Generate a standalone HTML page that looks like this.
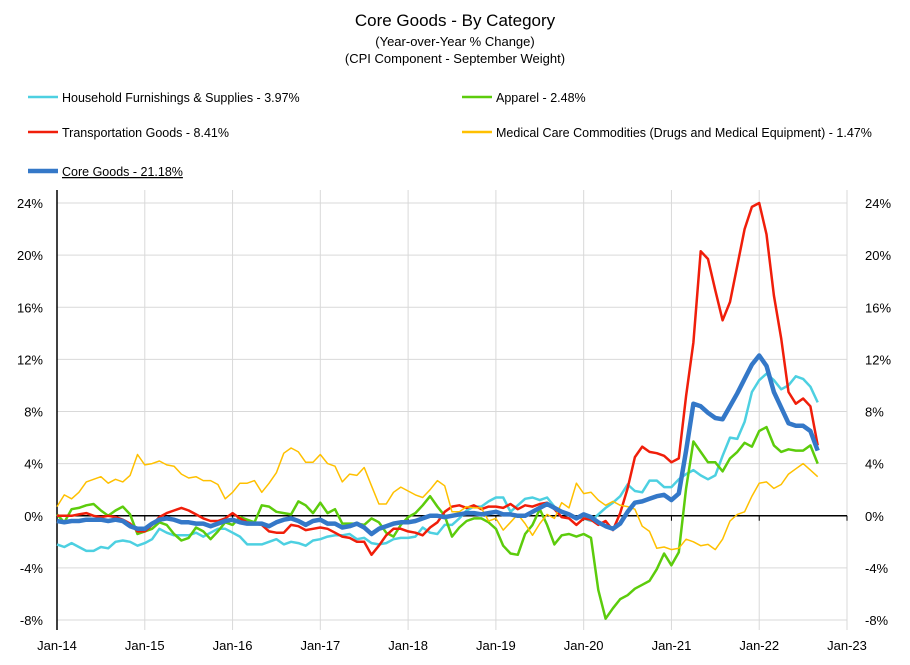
<!DOCTYPE html>
<html><head><meta charset="utf-8"><style>
body{margin:0;background:#fff;font-family:"Liberation Sans",sans-serif;}
svg text{font-family:"Liberation Sans",sans-serif;fill:#000;}
</style></head><body>
<svg id="chart" width="910" height="660" viewBox="0 0 910 660" xmlns="http://www.w3.org/2000/svg">
<rect width="910" height="660" fill="#fff"/>
<text x="455" y="26" font-size="17" text-anchor="middle">Core Goods - By Category</text>
<text x="455" y="46" font-size="13" text-anchor="middle">(Year-over-Year % Change)</text>
<text x="455" y="63" font-size="13" text-anchor="middle">(CPI Component - September Weight)</text>
<g id="legend"></g>
<g id="grid"></g>
<g id="axes"></g>
<g id="series"></g>
</svg>
<script>
const household=[-2.2,-2.4,-2.1,-2.4,-2.7,-2.7,-2.4,-2.5,-2.0,-1.9,-2.0,-2.3,-2.1,-1.8,-1.0,-1.3,-1.5,-1.5,-1.5,-1.3,-1.6,-1.3,-1.0,-1.0,-1.3,-1.6,-2.2,-2.2,-2.2,-2.0,-1.8,-2.2,-2.0,-2.1,-2.3,-1.9,-1.8,-1.6,-1.5,-1.5,-1.4,-1.8,-1.7,-2.1,-2.2,-2.1,-1.8,-1.7,-1.7,-1.6,-0.9,-1.3,-1.4,-0.7,-0.7,-0.2,0.4,0.7,0.7,1.1,1.4,1.4,0.3,0.8,1.3,1.4,1.2,1.4,0.7,0.3,0.1,-0.1,-0.2,-0.4,0.1,0.6,1.0,1.5,2.4,1.9,1.8,2.7,2.7,2.2,2.2,2.8,3.2,3.5,3.1,2.8,3.1,4.6,6.0,5.9,7.2,9.5,10.4,10.9,10.4,9.7,10.0,10.7,10.5,9.9,8.7];
const apparel=[0.1,-0.5,0.5,0.6,0.8,0.9,0.4,0.0,0.4,0.7,0.1,-1.4,-1.2,-1.0,-0.5,-0.7,-1.4,-1.9,-1.7,-0.9,-1.2,-1.8,-1.2,-0.5,-0.7,-0.1,-0.3,-0.5,0.8,0.7,0.3,0.2,0.1,1.1,0.8,0.2,1.0,0.2,0.5,-0.6,-0.6,-0.6,-0.7,-0.2,-0.5,-1.3,-1.6,-0.7,-0.1,0.2,0.8,1.5,0.7,0.0,-1.6,-0.9,-0.4,-0.2,-0.2,-0.5,-1.0,-2.3,-2.9,-3.0,-1.4,-0.7,0.5,-0.7,-2.2,-1.5,-1.4,-1.6,-1.4,-1.7,-5.7,-7.9,-7.1,-6.4,-6.1,-5.6,-5.3,-5.0,-4.1,-2.9,-3.8,-2.8,2.1,5.7,4.9,4.1,4.1,3.4,4.4,4.9,5.6,5.3,6.5,6.8,5.4,4.9,5.1,5.0,5.0,5.4,4.0];
const transport=[0,0,0,0.1,0.2,0,-0.1,0,-0.1,-0.3,-0.6,-1.2,-1.2,-0.7,-0.1,0.2,0.4,0.6,0.4,0.1,-0.2,-0.4,-0.4,-0.2,0.2,-0.2,-0.5,-0.6,-0.7,-1.2,-1.3,-1.3,-0.7,-0.8,-1.1,-1.0,-0.9,-1.0,-1.3,-1.6,-1.7,-2.0,-2.0,-3.0,-2.3,-1.5,-1.0,-1.0,-1.2,-1.3,-1.5,-0.9,-0.5,0.3,0.7,0.8,0.6,0.8,0.5,0.7,0.7,0.6,0.9,0.5,0.8,0.7,0.9,1.0,0.5,-0.1,-0.2,-0.7,-0.2,-0.3,-0.7,-0.4,-1.1,0.2,2.1,4.5,5.3,4.9,4.8,4.6,4.1,4.4,9.2,13.3,20.3,19.7,17.3,15.0,16.4,19.2,22.0,23.7,24.0,21.6,16.9,13.6,9.5,8.6,9.0,8.4,5.4];
const medical=[0.7,1.6,1.3,1.8,2.6,2.8,3.0,2.5,2.8,2.6,3.1,4.7,3.9,4.0,4.2,3.9,3.8,3.2,2.9,3.0,2.7,2.7,2.4,1.3,1.8,2.5,2.5,2.7,1.8,2.5,3.3,4.8,5.2,4.9,4.1,4.1,4.7,4.0,3.8,2.6,3.2,3.1,3.7,2.3,0.9,0.9,1.8,2.2,1.9,1.6,1.4,2.0,2.7,2.3,0.3,0.3,0.7,0.6,0.6,-0.4,-0.2,-1.1,-0.5,0.1,-0.6,-1.5,-0.6,0.1,-0.2,1.0,0.6,2.5,1.7,1.8,1.2,0.8,1.1,0.8,0.7,0.5,-0.8,-1.2,-2.5,-2.4,-2.6,-2.5,-1.8,-2.0,-2.3,-2.2,-2.6,-1.8,-0.4,0.1,0.3,1.5,2.5,2.6,2.1,2.4,3.2,3.6,4.0,3.5,3.0];
const coreGoods=[-0.4,-0.5,-0.4,-0.4,-0.3,-0.3,-0.3,-0.4,-0.3,-0.4,-0.8,-1.0,-1.0,-0.6,-0.3,-0.2,-0.3,-0.5,-0.5,-0.6,-0.6,-0.8,-0.6,-0.4,-0.3,-0.5,-0.6,-0.6,-0.6,-0.8,-0.5,-0.3,-0.2,-0.4,-0.7,-0.4,-0.3,-0.6,-0.6,-0.9,-0.8,-0.6,-0.9,-1.4,-1.0,-0.8,-0.6,-0.5,-0.5,-0.4,-0.2,0.0,0.0,-0.1,0.0,0.1,0.2,0.2,0.1,0.2,0.3,0.1,0.1,0.0,0.0,0.3,0.6,0.9,0.6,0.3,0.1,-0.2,0.1,-0.1,-0.5,-0.8,-1.0,-0.6,0.3,1.0,1.1,1.3,1.5,1.6,1.2,1.7,5.0,8.6,8.4,7.9,7.5,7.4,8.4,9.4,10.5,11.6,12.3,11.5,9.5,8.3,7.1,6.9,6.9,6.5,5.0];
const yTicks=[-8,-4,0,4,8,12,16,20,24];
const xTickLabels=["Jan-14","Jan-15","Jan-16","Jan-17","Jan-18","Jan-19","Jan-20","Jan-21","Jan-22","Jan-23"];
const seriesNames=["Household Furnishings & Supplies - 3.97%","Apparel - 2.48%","Transportation Goods - 8.41%","Medical Care Commodities (Drugs and Medical Equipment) - 1.47%","Core Goods - 21.18%"];

const NS="http://www.w3.org/2000/svg";
const X0=57,X1=847,YTOP=203,YBOT=620;
function xScale(m){return X0+(X1-X0)*m/108;}
function yScale(v){return YBOT-(v+8)/32*(YBOT-YTOP);}
function mk(tag,attrs,parent){const e=document.createElementNS(NS,tag);for(const k in attrs)e.setAttribute(k,attrs[k]);parent.appendChild(e);return e;}
const grid=document.getElementById('grid'),axes=document.getElementById('axes'),ser=document.getElementById('series'),leg=document.getElementById('legend');
mk('rect',{x:0,y:188,width:910,height:0,fill:'none'},grid);
yTicks.forEach(t=>{
  if(t!==0){const l=mk('line',{x1:X0,x2:X1,y1:yScale(t),y2:yScale(t),stroke:'#d9d9d9','stroke-width':1},grid);
  
  }
  const a=mk('text',{x:X0-14,y:yScale(t)+5,'font-size':13,'text-anchor':'end'},axes);a.textContent=t+'%';
  
  
  const b=mk('text',{x:X1+18,y:yScale(t)+5,'font-size':13,'text-anchor':'start'},axes);b.textContent=t+'%';
  
  
});
xTickLabels.forEach((s,i)=>{
  const x=xScale(i*12);
  if(i>0){const l=mk('line',{x1:x,x2:x,y1:190,y2:YBOT+10,stroke:'#d9d9d9','stroke-width':1},grid);
  
  }
  mk('line',{x1:x,x2:x,y1:yScale(0),y2:yScale(0)+5,stroke:'#000'},axes);
  const t=mk('text',{x:x,y:650,'font-size':13,'text-anchor':'middle'},axes);t.textContent=s;
  
  
});
mk('line',{x1:X0,x2:X0,y1:190,y2:YBOT+10,stroke:'#000','stroke-width':1.5},axes);
mk('line',{x1:X0,x2:X1,y1:yScale(0),y2:yScale(0),stroke:'#000','stroke-width':1.5},axes);
const defs=[[household,'#4dd0e1',2.5,'household-line'],[apparel,'#5ccc0c',2.5,'apparel-line'],[transport,'#f01e0a',2.5,'transportation-line'],[medical,'#ffc000',1.5,'medical-line'],[coreGoods,'#3478c8',4.5,'core-goods-line']];
defs.forEach(([arr,c,w,n])=>{
  const d=arr.map((v,i)=>(i?'L':'M')+xScale(i).toFixed(1)+','+yScale(v).toFixed(1)).join('');
  const p=mk('path',{d:d,fill:'none',stroke:c,'stroke-width':w,'stroke-linejoin':'round'},ser);
  
  
});
const legPos=[[42,97],[476,97],[42,132],[476,132],[42,171]];
defs.forEach(([arr,c,w,n],i)=>{
  const [x,y]=legPos[i];
  const g=mk('g',{},leg);
  
  
  mk('line',{x1:x-14,x2:x+16,y1:y,y2:y,stroke:c,'stroke-width':i===4?4.5:2.5},g);
  const t=mk('text',{x:x+20,y:y+5,'font-size':12.5},g);t.textContent=seriesNames[i];
  if(i===4)t.setAttribute('text-decoration','underline');
});
</script>
</body></html>
